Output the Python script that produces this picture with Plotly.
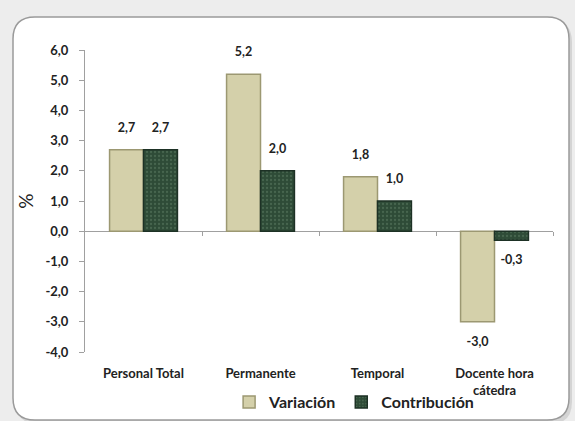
import plotly.graph_objects as go

categories = ["Personal Total", "Permanente", "Temporal", "Docente hora<br>cátedra"]
variacion = [2.7, 5.2, 1.8, -3.0]
contribucion = [2.7, 2.0, 1.0, -0.3]
tick_vals = [6, 5, 4, 3, 2, 1, 0, -1, -2, -3, -4]

W, H = 575, 421
L, R, T, B = 85, 22, 50, 69
pw, ph = W - L - R, H - T - B


def px(x):
    return (x - L) / pw


def py(y):
    return (H - B - y) / ph


def rounded(x0, y0, x1, y1, r):
    return (f"M {px(x0 + r)},{py(y0)} L {px(x1 - r)},{py(y0)} "
            f"Q {px(x1)},{py(y0)} {px(x1)},{py(y0 + r)} "
            f"L {px(x1)},{py(y1 - r)} Q {px(x1)},{py(y1)} {px(x1 - r)},{py(y1)} "
            f"L {px(x0 + r)},{py(y1)} Q {px(x0)},{py(y1)} {px(x0)},{py(y1 - r)} "
            f"L {px(x0)},{py(y0 + r)} Q {px(x0)},{py(y0)} {px(x0 + r)},{py(y0)} Z")


def fmt(v):
    return "<b>" + f"{v:.1f}".replace(".", ",") + "</b>"


font_family = "Lato, 'Open Sans', sans-serif"
GAP = 0.42

fig = go.Figure()
fig.add_trace(go.Bar(
    x=categories, y=variacion, name="Variación", offsetgroup="v",
    marker=dict(color="#d4d0aa", line=dict(color="#9c9872", width=1.5)),
))
fig.add_trace(go.Bar(
    x=categories, y=contribucion, name="Contribución", offsetgroup="c",
    marker=dict(color="#2e4b37", line=dict(color="#1d3125", width=1.5),
                pattern=dict(shape=".", fgcolor="#5f7f66", size=4, solidity=0.25)),
))
for vals, grp in ((variacion, "v"), (contribucion, "c")):
    fig.add_trace(go.Scatter(
        x=categories, y=vals, mode="markers+text", offsetgroup=grp,
        marker=dict(size=22, color="rgba(0,0,0,0)"),
        text=[fmt(v) for v in vals],
        textposition=["top center" if v >= 0 else "bottom center" for v in vals],
        textfont=dict(family=font_family, size=12.5, color="#222"),
        showlegend=False, hoverinfo="skip", cliponaxis=False,
    ))
# boundary ticks along the zero line
fig.add_trace(go.Scatter(x=[], y=[], xaxis="x2", showlegend=False))

shapes = [
    dict(type="path", xref="paper", yref="paper", path=rounded(16, 20, 572, 424, 22),
         fillcolor="rgba(0,0,0,0.10)", line=dict(width=0), layer="below"),
    dict(type="path", xref="paper", yref="paper", path=rounded(13, 17, 569, 420, 22),
         fillcolor="white", line=dict(color="#9a9a9a", width=1.5), layer="below"),
]

fig.update_layout(
    width=W, height=H,
    margin=dict(l=L, r=R, t=T, b=B, autoexpand=False),
    paper_bgcolor="#ededed",
    plot_bgcolor="rgba(0,0,0,0)",
    separators=",.",
    barmode="group",
    bargap=GAP,
    bargroupgap=0,
    scattermode="group",
    scattergap=GAP,
    shapes=shapes,
    font=dict(family=font_family, color="#222"),
    xaxis=dict(showline=False, ticks="", showgrid=False, zeroline=False, automargin=False,
               ticklabelstandoff=12,
               tickfont=dict(family=font_family, size=13, color="#222", weight="bold")),
    xaxis2=dict(overlaying="x", anchor="free", position=0.4, range=[-0.5, 3.5],
                tickvals=[0.5, 1.5, 2.5, 3.5], ticks="outside", ticklen=4,
                tickcolor="#a0a0a0", showticklabels=False, showline=False,
                showgrid=False, zeroline=False),
    yaxis=dict(range=[-4, 6], tickvals=tick_vals,
               ticktext=[fmt(v) for v in tick_vals],
               showgrid=False, showline=True, linecolor="#a0a0a0", linewidth=1,
               ticks="outside", ticklen=5, tickcolor="#a0a0a0", automargin=False,
               ticklabelstandoff=8,
               zeroline=True, zerolinecolor="#a0a0a0", zerolinewidth=1,
               tickfont=dict(family=font_family, size=13, color="#222"),
               title=dict(text="%", font=dict(family=font_family, size=19, color="#222"),
                          standoff=6)),
    legend=dict(orientation="h", x=0.575, xanchor="center", y=-0.11, yanchor="top",
                font=dict(family=font_family, size=16, color="#222", weight="bold"),
                bgcolor="rgba(0,0,0,0)", itemwidth=30, traceorder="normal"),
    showlegend=True,
)

fig.write_html("out.html", config={"displayModeBar": False},
               post_script="document.body.style.margin='0';document.body.style.background='#ededed';")
